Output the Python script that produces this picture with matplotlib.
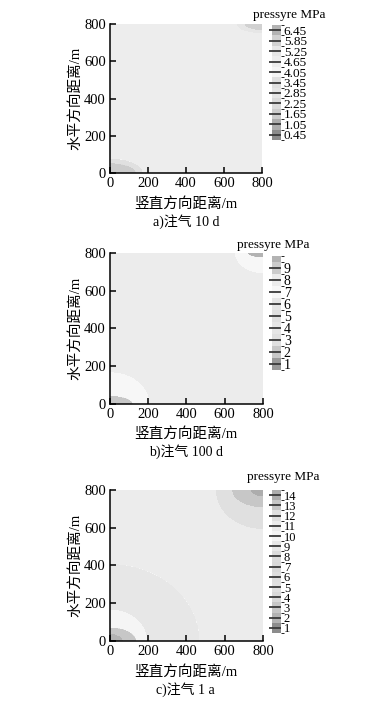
import matplotlib
matplotlib.use("Agg")
import matplotlib.pyplot as plt
import numpy as np
from matplotlib.colors import ListedColormap, BoundaryNorm

plt.rcParams['font.family'] = ['Liberation Serif', 'Noto Sans CJK SC']

# ---- data ----
captions = ['a)注气 10 d', 'b)注气 100 d', 'c)注气 1 a']
xlabel = '竖直方向距离/m'
ylabel = '水平方向距离/m'
cb_title = 'pressyre MPa'
axis_ticks = [0, 200, 400, 600, 800]

# colour-bar boundaries, labels and band greys (bottom -> top)
bounds_a = [0.15, 0.75, 1.35, 1.95, 2.55, 3.15, 3.75, 4.35, 4.95, 5.55, 6.15, 6.75]
labels_a = [0.45, 1.05, 1.65, 2.25, 2.85, 3.45, 4.05, 4.65, 5.25, 5.85, 6.45]
grays_a = [0.55, 0.68, 0.80, 0.86, 0.90, 0.88, 0.96, 0.93, 0.90, 0.82, 0.70]

bounds_b = [0.5, 1.5, 2.5, 3.5, 4.5, 5.5, 6.5, 7.5, 8.5, 9.5, 10.0]
labels_b = [1, 2, 3, 4, 5, 6, 7, 8, 9]
grays_b = [0.60, 0.78, 0.88, 0.90, 0.88, 0.90, 0.97, 0.925, 0.80, 0.70]

bounds_c = [0.5, 1.5, 2.5, 3.5, 4.5, 5.5, 6.5, 7.5, 8.5, 9.5, 10.5, 11.5, 12.5, 13.5, 14.5]
labels_c = [1, 2, 3, 4, 5, 6, 7, 8, 9, 10, 11, 12, 13, 14]
grays_c = [0.55, 0.70, 0.78, 0.85, 0.88, 0.87, 0.85, 0.86, 0.905, 0.96, 0.925, 0.88, 0.78, 0.68]

# background pressure and pressure rings round the two corner wells:
# (x extent m, y extent m, pressure MPa), outer ring first
bg_a = 4.65
bl_rings_a = [(175, 80, 3.45), (140, 55, 1.65)]
tr_rings_a = [(130, 45, 5.25), (90, 28, 5.85)]

bg_b = 8
bl_rings_b = [(210, 171, 7), (122, 45, 2)]
tr_rings_b = [(150, 110, 7), (75, 20, 9.7)]

bg_c = 11
bl_rings_c = [(470, 410, 9), (191, 163, 10), (139, 74, 3), (70, 40, 2)]
tr_rings_c = [(243, 204, 12), (157, 88, 13), (60, 30, 14)]

panels = [
    (bounds_a, labels_a, grays_a, bg_a, bl_rings_a, tr_rings_a),
    (bounds_b, labels_b, grays_b, bg_b, bl_rings_b, tr_rings_b),
    (bounds_c, labels_c, grays_c, bg_c, bl_rings_c, tr_rings_c),
]

# ---- layout (figure fractions) ----
ax_pos = [[0.2806, 0.7546, 0.3878, 0.2113],
          [0.2806, 0.4270, 0.3903, 0.2142],
          [0.2806, 0.0908, 0.3903, 0.2142]]
cb_pos = [[0.6939, 0.8014, 0.023, 0.1631],
          [0.6939, 0.4752, 0.023, 0.1617],
          [0.6939, 0.1021, 0.023, 0.2028]]
title_pos = [(0.737, 0.979), (0.697, 0.652), (0.722, 0.323)]
xlab_y = [204, 434, 672]
cap_y = [222, 452, 690]
cb_fontsize = [9.5, 10, 9]

fig = plt.figure(figsize=(3.92, 7.05), dpi=100)

grid = np.linspace(0, 800, 401)
X, Y = np.meshgrid(grid, grid)

for i, (bounds, labels, grays, bg, bl_rings, tr_rings) in enumerate(panels):
    ax = fig.add_axes(ax_pos[i])
    field = np.full(X.shape, float(bg))
    for rx, ry, p in bl_rings:
        inside = (X / rx) ** 2 + (Y / ry) ** 2 < 1
        field[inside] = p
    for rx, ry, p in tr_rings:
        inside = ((800 - X) / rx) ** 2 + ((800 - Y) / ry) ** 2 < 1
        field[inside] = p

    cmap = ListedColormap([(g, g, g) for g in grays])
    norm = BoundaryNorm(bounds, cmap.N)
    cs = ax.contourf(X, Y, field, levels=bounds, cmap=cmap, norm=norm)

    ax.set_xlim(0, 800)
    ax.set_ylim(0, 800)
    ax.set_xticks(axis_ticks)
    ax.set_yticks(axis_ticks)
    for s in ['top', 'right']:
        ax.spines[s].set_visible(False)
    for s in ['left', 'bottom']:
        ax.spines[s].set_linewidth(1.1)
    ax.tick_params(direction='in', length=4, width=1.1, labelsize=10.5, pad=3)
    ax.set_ylabel(ylabel, fontsize=10.5, labelpad=1)

    fig.text(0.474, 1 - xlab_y[i] / 705, xlabel, ha='center', va='center', fontsize=10.5)
    fig.text(0.474, 1 - cap_y[i] / 705, captions[i], ha='center', va='center', fontsize=10)

    cax = fig.add_axes(cb_pos[i])
    cb = fig.colorbar(cs, cax=cax, ticks=labels, spacing='proportional')
    cb.outline.set_visible(False)
    cax.tick_params(direction='in', length=9, width=1.3, colors='#3a3a3a',
                    labelsize=cb_fontsize[i], pad=2)
    for t in cax.get_yticklabels():
        t.set_color('black')
    fig.text(title_pos[i][0], title_pos[i][1], cb_title, ha='center', va='center', fontsize=9.5)

fig.savefig('out.png', dpi=100)
